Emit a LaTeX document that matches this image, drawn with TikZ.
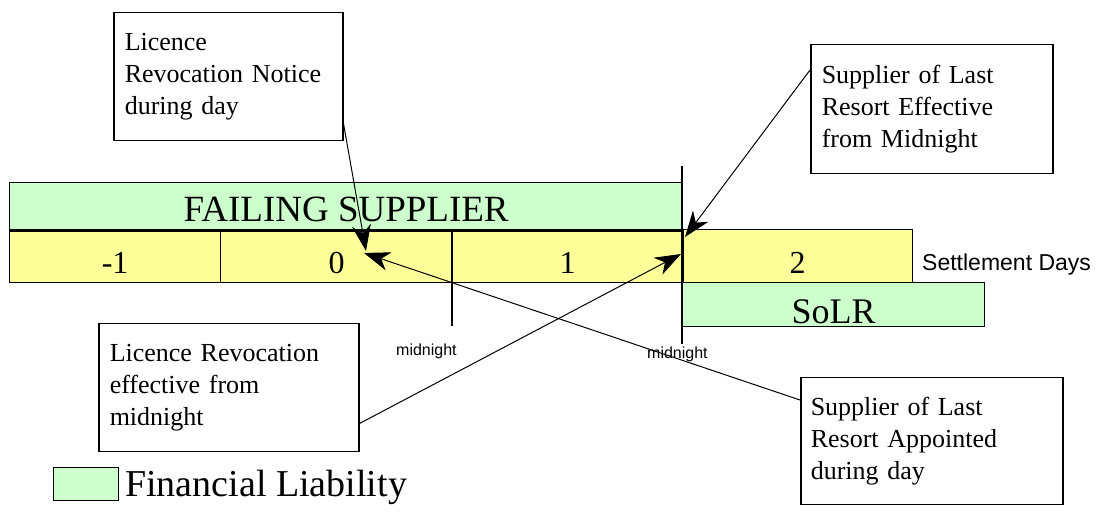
\documentclass[tikz,border=0pt]{standalone}
\usepackage{fontspec}
\setmainfont{Liberation Serif}
\newfontfamily\labelsans{Liberation Sans}
\usetikzlibrary{arrows.meta}

\definecolor{liab}{HTML}{CCFFCC}
\definecolor{dayfill}{HTML}{FFFF99}

\begin{document}
\begin{tikzpicture}[x=1pt,y=-1pt,
  bar/.style={draw, line width=1.3pt, anchor=north west, inner sep=0pt, fill=liab},
  daycell/.style={draw, line width=1.3pt, anchor=north west, inner sep=0pt, fill=dayfill,
    minimum height=53pt, text height=35pt, text depth=0pt, font=\fontsize{32}{32}\selectfont},
  callout/.style={draw, line width=1.5pt, anchor=north west, align=left, inner xsep=11pt,
    inner ysep=0pt, font=\fontsize{26}{32}\selectfont, fill=white},
  pointer/.style={line width=1pt, -{Stealth[length=26pt,width=19pt,inset=8pt]}},
  tickline/.style={line width=1.3pt},
  ticklabel/.style={font=\labelsans\fontsize{16}{16}\selectfont, anchor=base west, inner sep=0pt}
]
\useasboundingbox (0,0) rectangle (1104,518);

% failing supplier liability bar
\node[bar, minimum width=673pt, minimum height=47pt, text height=31pt, text depth=0pt,
  font=\fontsize{37}{37}\selectfont] (fail) at (9,182) {FAILING SUPPLIER};

% settlement day cells
\node[daycell, minimum width=211pt] (dm1) at (9,229) {-1};
\node[daycell, minimum width=232pt] (d0) at (220,229) {0};
\node[daycell, minimum width=230pt] (d1) at (452,229) {1};
\node[daycell, minimum width=230pt] (d2) at (682,229) {2};
\draw[line width=3pt] (fail.south west) -- (fail.south east);

% supplier of last resort liability bar
\node[bar, minimum width=302pt, minimum height=44pt, text height=38pt, text depth=0pt,
  font=\fontsize{36}{36}\selectfont] (solr) at (682,282) {SoLR};

% midnight markers
\coordinate (m1) at (452,326);
\draw[tickline] (d1.north west) -- (m1);
\coordinate (m2top) at (682,166);
\coordinate (m2) at (682,344);
\draw[tickline] (m2top) -- (m2);
\draw[line width=3pt] (d2.north west) -- (d2.south west);
\node[ticklabel] (mn1) at (396,356) {midnight};
\node[ticklabel] (mn2) at (647,359) {midnight};

\node[anchor=base west, inner sep=0pt, font=\labelsans\fontsize{23}{23}\selectfont]
  (sd) at (922,271) {Settlement Days};

% callouts
\node[callout, text width=207pt, minimum height=128pt] (c1) at (113,12)
  {Licence\\Revocation Notice\\during day};
\node[callout, text width=220pt, minimum height=129pt] (c2) at (810,44)
  {Supplier of Last\\Resort Effective\\from Midnight};
\node[callout, text width=238pt, minimum height=128pt] (c3) at (98,323)
  {Licence Revocation\\effective from\\midnight};
\node[callout, text width=242pt, inner xsep=10pt, minimum height=127pt] (c4) at (800,377)
  {Supplier of Last\\Resort Appointed\\during day};

% pointers
\coordinate (a1) at (366,251);
\coordinate (a2) at (364,253);
\coordinate (a3) at (681,254);
\coordinate (a4) at (685,237);
\draw[pointer] ([yshift=18pt]c1.south east) -- (a1);
\draw[pointer] ([yshift=-23pt]c4.north west) -- (a2);
\draw[pointer] ([yshift=29pt]c3.south east) -- (a3);
\draw[pointer] ([yshift=-26pt]c2.north west) -- (a4);

% legend
\node[draw, line width=1.3pt, fill=liab, minimum width=65pt, minimum height=33pt,
  anchor=north west, inner sep=0pt] (key) at (53,467) {};
\node[anchor=base west, inner sep=0pt, font=\fontsize{38}{38}\selectfont]
  (keytext) at (125,497) {Financial Liability};
\end{tikzpicture}
\end{document}
